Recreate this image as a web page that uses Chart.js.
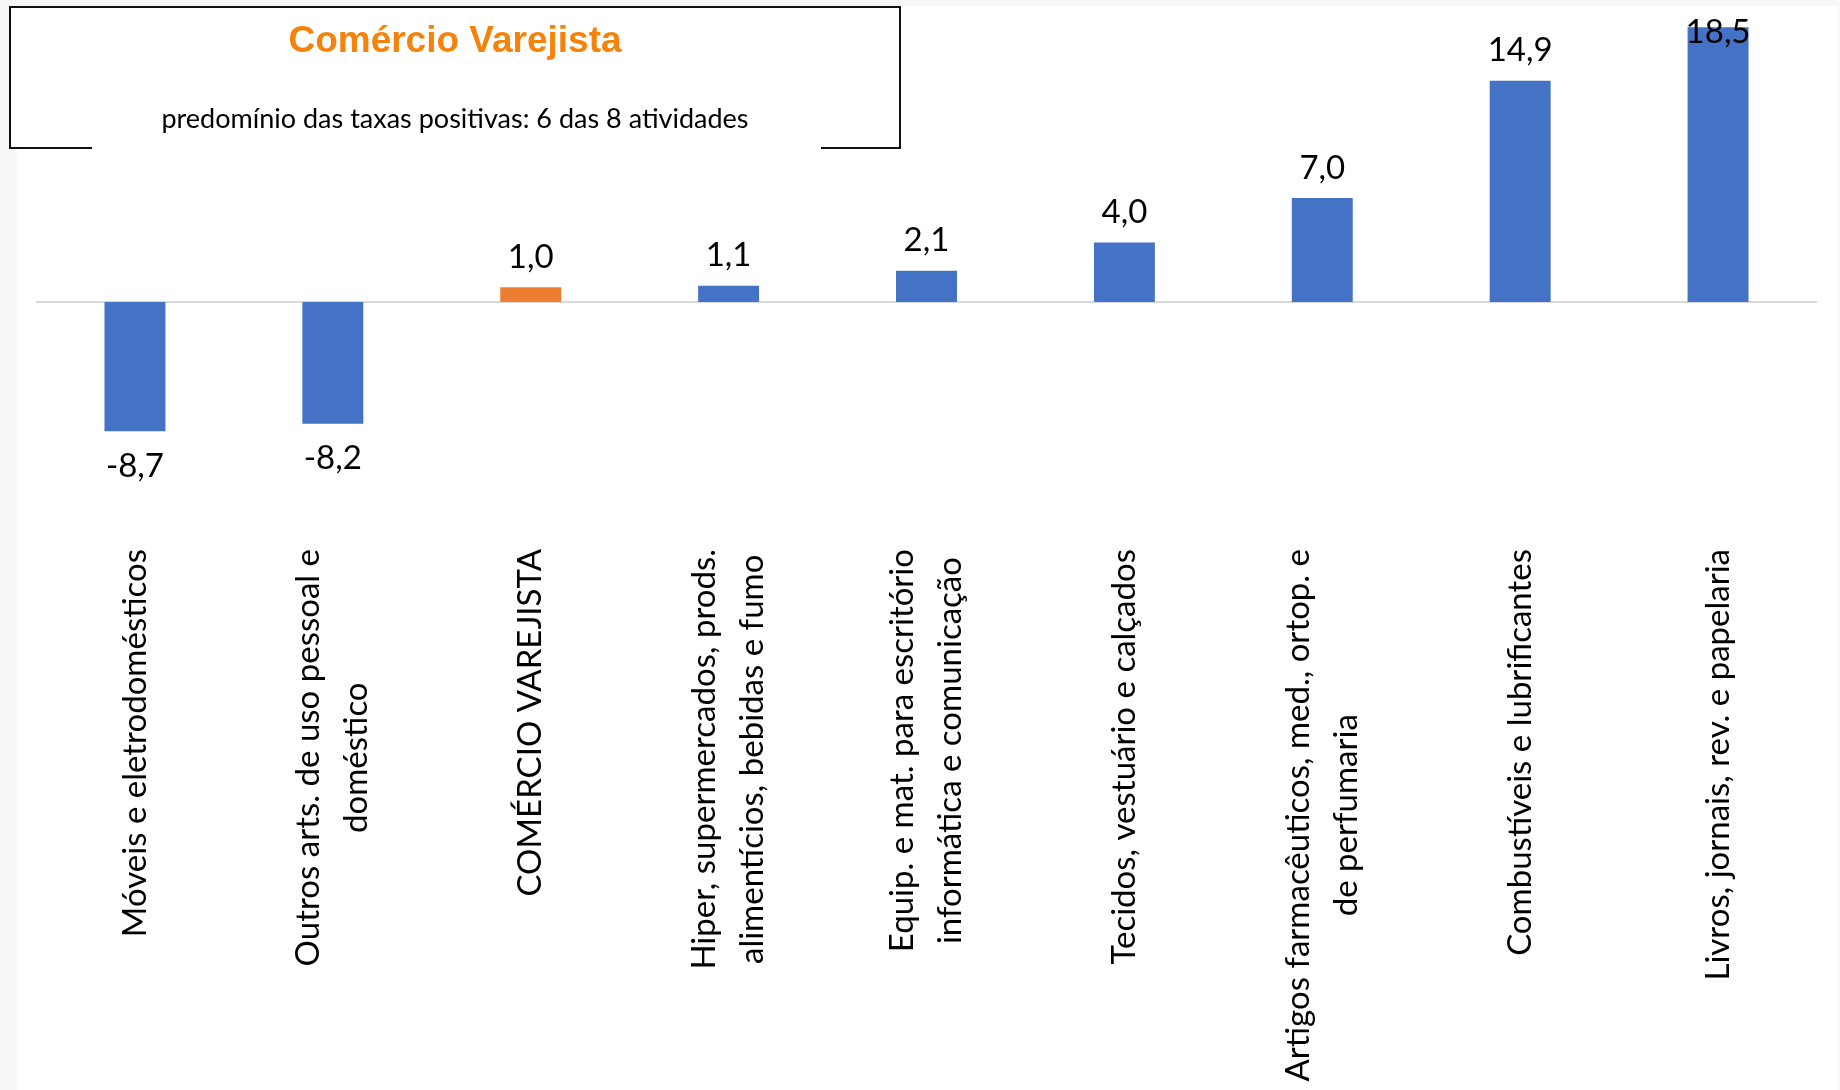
<!DOCTYPE html>
<html lang="pt-BR">
<head>
<meta charset="utf-8">
<title>Comércio Varejista</title>
<script src="https://cdn.jsdelivr.net/npm/chart.js@4.4.1/dist/chart.umd.min.js"></script>
<style>
  html, body { margin: 0; padding: 0; background: #f7f7f7; overflow: hidden; }
  #painel { position: absolute; left: 17px; top: 6px; width: 1821px; height: 1084px; background: #fff; }
  #grafico { position: absolute; left: 0; top: 0; }
</style>
</head>
<body>
<div id="painel"></div>
<canvas id="grafico" width="1840" height="1090"></canvas>
<script>
// dados (variação %, por atividade)
const categorias = [
    ['Móveis e eletrodomésticos'],
    ['Outros arts. de uso pessoal e', 'doméstico'],
    ['COMÉRCIO VAREJISTA'],
    ['Hiper, supermercados, prods.', 'alimentícios, bebidas e fumo'],
    ['Equip. e mat. para escritório', 'informática e comunicação'],
    ['Tecidos, vestuário e calçados'],
    ['Artigos farmacêuticos, med., ortop. e', 'de perfumaria'],
    ['Combustíveis e lubrificantes'],
    ['Livros, jornais, rev. e papelaria']
];
const variacoes = [-8.7, -8.2, 1.0, 1.1, 2.1, 4.0, 7.0, 14.9, 18.5];
const destaque = 'COMÉRCIO VAREJISTA';
const titulo = 'Comércio Varejista';
const subtitulo = 'predomínio das taxas positivas: 6 das 8 atividades';

const AZUL = '#4472c4';
const LARANJA = '#ed7d31';

// cor de cada barra: o total do varejo fica em laranja
const cores = categorias.map(c => c.join(' ') === destaque ? LARANJA : AZUL);

// linha do zero
const linhaZero = {
    id: 'linhaZero',
    beforeDatasetsDraw(chart) {
        const ctx = chart.ctx, area = chart.chartArea;
        const y0 = chart.scales.y.getPixelForValue(0);
        ctx.save();
        ctx.strokeStyle = '#d9d9d9';
        ctx.lineWidth = 2;
        ctx.beginPath();
        ctx.moveTo(area.left, y0);
        ctx.lineTo(area.right, y0);
        ctx.stroke();
        ctx.restore();
    }
};

// rótulos das categorias, na vertical, com linhas centradas
const rotulosX = {
    id: 'rotulosX',
    afterDraw(chart) {
        const ctx = chart.ctx;
        const x = chart.scales.x;
        const topo = 549, entreLinhas = 48;
        ctx.save();
        ctx.font = '33px Lato';
        ctx.fillStyle = '#000';
        ctx.textAlign = 'center';
        ctx.textBaseline = 'middle';
        categorias.forEach((linhas, i) => {
            const px = x.getPixelForValue(i);
            const larg = Math.max(...linhas.map(l => ctx.measureText(l).width));
            ctx.save();
            ctx.translate(px, topo);
            ctx.rotate(-Math.PI / 2);
            linhas.forEach((l, j) => {
                ctx.fillText(l, -larg / 2, (j - (linhas.length - 1) / 2) * entreLinhas);
            });
            ctx.restore();
        });
        ctx.restore();
    }
};

// valores sobre/sob as barras
const rotulosValor = {
    id: 'rotulosValor',
    afterDatasetsDraw(chart) {
        const ctx = chart.ctx;
        const meta = chart.getDatasetMeta(0);
        ctx.save();
        ctx.font = '33px Lato';
        ctx.fillStyle = '#000';
        ctx.textAlign = 'center';
        ctx.textBaseline = 'middle';
        meta.data.forEach((bar, i) => {
            const v = variacoes[i];
            let y = v >= 0 ? bar.y - 30 : bar.y + 35;
            if (y < 32) y = 32;
            ctx.fillText(v.toFixed(1).replace('.', ','), bar.x, y);
        });
        ctx.restore();
    }
};

// caixa do título
const caixaTitulo = {
    id: 'caixaTitulo',
    afterDraw(chart) {
        const ctx = chart.ctx;
        ctx.save();
        ctx.fillStyle = '#fff';
        ctx.fillRect(9, 7, 892, 142);
        ctx.strokeStyle = '#111';
        ctx.lineWidth = 2;
        ctx.beginPath();
        ctx.moveTo(92, 148);
        ctx.lineTo(10, 148);
        ctx.lineTo(10, 7);
        ctx.lineTo(900, 7);
        ctx.lineTo(900, 148);
        ctx.lineTo(821, 148);
        ctx.stroke();

        ctx.textAlign = 'center';
        ctx.textBaseline = 'alphabetic';
        ctx.fillStyle = '#f5820a';
        ctx.font = 'bold 37px "Liberation Sans", Arial';
        ctx.fillText(titulo, 455, 52);
        ctx.fillStyle = '#000';
        ctx.font = '27px Lato';
        ctx.fillText(subtitulo, 455, 128);
        ctx.restore();
    }
};

const ctx = document.getElementById('grafico').getContext('2d');
new Chart(ctx, {
    type: 'bar',
    data: {
        labels: categorias.map(c => c.join(' ')),
        datasets: [{
            data: variacoes,
            backgroundColor: cores,
            borderWidth: 0,
            barPercentage: 0.308,
            categoryPercentage: 1
        }]
    },
    options: {
        responsive: false,
        animation: false,
        layout: { padding: { left: 36, right: 23, top: 5, bottom: 491 } },
        scales: {
            x: { display: false },
            y: { display: false, min: -20, max: 20 }
        },
        plugins: {
            legend: { display: false },
            tooltip: { enabled: false }
        }
    },
    plugins: [linhaZero, rotulosValor, rotulosX, caixaTitulo]
});
</script>
</body>
</html>
